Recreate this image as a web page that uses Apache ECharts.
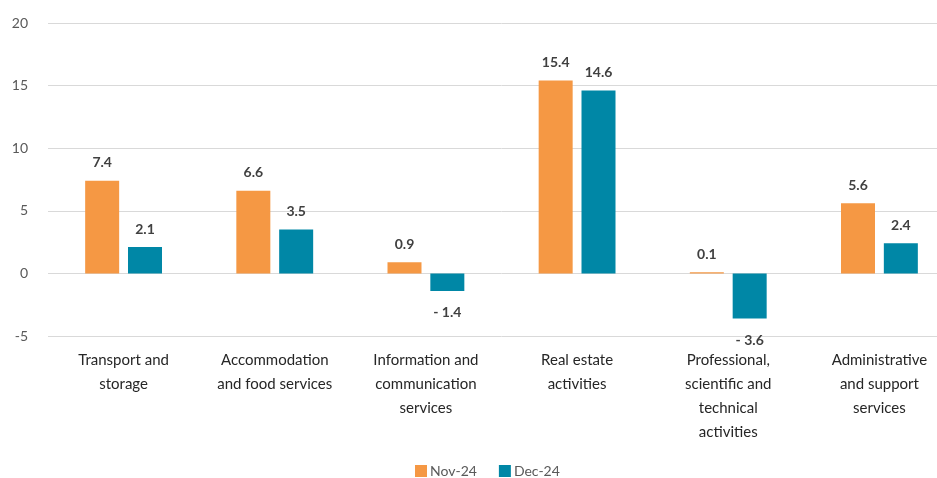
<!DOCTYPE html>
<html>
<head>
<meta charset="utf-8">
<script src="https://cdn.jsdelivr.net/npm/echarts@6/dist/echarts.min.js"></script>
<style>
  html, body { margin: 0; padding: 0; background: #fff; overflow: hidden; }
  #wrap { width: 937px; height: 478px; overflow: hidden; }
  #chart { width: 960px; height: 478px; }
</style>
</head>
<body>
<div id="wrap"><div id="chart"></div></div>
<script>
// Industry categories (line breaks as they wrap under the axis)
const categories = [
  'Transport and\nstorage',
  'Accommodation\nand food services',
  'Information and\ncommunication\nservices',
  'Real estate\nactivities',
  'Professional,\nscientific and\ntechnical\nactivities',
  'Administrative\nand support\nservices'
];
const seriesNames = ['Nov-24', 'Dec-24'];
const nov24 = [7.4, 6.6, 0.9, 15.4, 0.1, 5.6];
const dec24 = [2.1, 3.5, -1.4, 14.6, -3.6, 2.4];
const yTicks = { min: -5, max: 20, interval: 5 };

const FONT = 'Lato, "Open Sans", sans-serif';

function fmt(v) {
  return v < 0 ? '- ' + Math.abs(v).toFixed(1) : v.toFixed(1);
}

function toItems(values) {
  return values.map(v => ({
    value: v,
    label: {
      position: v < 0 ? 'bottom' : 'top',
      distance: v < 0 ? 15 : 11
    }
  }));
}

const chart = echarts.init(document.getElementById('chart'), null, { renderer: 'canvas' });
chart.setOption({
  animation: false,
  textStyle: { fontFamily: FONT },
  grid: { left: 48, top: 23, width: 907, height: 313, containLabel: false },
  legend: {
    data: seriesNames,
    top: 464,
    left: 415,
    padding: 0,
    itemWidth: 12,
    itemHeight: 12,
    itemGap: 22,
    icon: 'rect',
    textStyle: { color: '#595959', fontSize: 14, fontFamily: FONT, padding: [0, 0, 0, -2] }
  },
  xAxis: {
    type: 'category',
    data: categories,
    axisLine: { show: false, onZero: false },
    axisTick: { show: false },
    axisLabel: {
      color: '#262626',
      fontSize: 15,
      lineHeight: 24,
      margin: 12,
      interval: 0,
      fontFamily: FONT
    }
  },
  yAxis: {
    type: 'value',
    min: yTicks.min,
    max: yTicks.max,
    interval: yTicks.interval,
    axisLine: { show: false },
    axisTick: { show: false },
    axisLabel: { color: '#595959', fontSize: 14, margin: 20, fontFamily: FONT },
    splitLine: { lineStyle: { color: '#d9d9d9', width: 1 } }
  },
  series: [
    {
      name: seriesNames[0],
      type: 'bar',
      data: toItems(nov24),
      barWidth: 34,
      barGap: '26%',
      itemStyle: { color: '#F59844' },
      label: {
        show: true,
        color: '#404040',
        fontSize: 14,
        fontWeight: 'bold',
        fontFamily: FONT,
        formatter: p => fmt(p.value)
      }
    },
    {
      name: seriesNames[1],
      type: 'bar',
      data: toItems(dec24),
      barWidth: 34,
      itemStyle: { color: '#0087A6' },
      label: {
        show: true,
        color: '#404040',
        fontSize: 14,
        fontWeight: 'bold',
        fontFamily: FONT,
        formatter: p => fmt(p.value)
      }
    }
  ]
});
</script>
</body>
</html>
